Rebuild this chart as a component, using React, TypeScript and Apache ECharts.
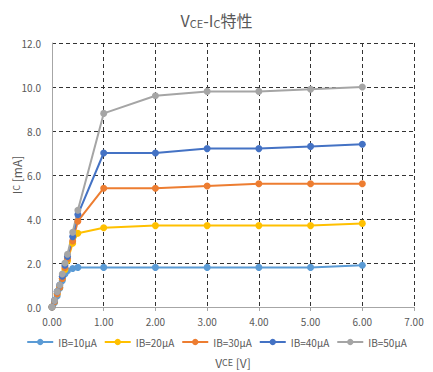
import React, { useEffect, useRef } from "react";
import * as echarts from "echarts";

const vce = [0, 0.05, 0.1, 0.15, 0.2, 0.25, 0.3, 0.4, 0.5, 1, 2, 3, 4, 5, 6];
const seriesNames = ["IB=10μA", "IB=20μA", "IB=30μA", "IB=40μA", "IB=50μA"];
const ib10 = [0, 0.2, 0.5, 0.85, 1.2, 1.5, 1.65, 1.75, 1.8, 1.8, 1.8, 1.8, 1.8, 1.8, 1.9];
const ib20 = [0, 0.25, 0.6, 0.9, 1.3, 1.7, 2.1, 2.9, 3.35, 3.6, 3.7, 3.7, 3.7, 3.7, 3.8];
const ib30 = [0, 0.25, 0.6, 0.9, 1.3, 1.8, 2.2, 3.0, 3.9, 5.4, 5.4, 5.5, 5.6, 5.6, 5.6];
const ib40 = [0, 0.3, 0.7, 1.0, 1.4, 1.9, 2.3, 3.2, 4.2, 7.0, 7.0, 7.2, 7.2, 7.3, 7.4];
const ib50 = [0, 0.3, 0.7, 1.0, 1.5, 2.0, 2.4, 3.4, 4.4, 8.8, 9.6, 9.8, 9.8, 9.9, 10.0];
const colors = ["#5B9BD5", "#FFC000", "#ED7D31", "#4472C4", "#A5A5A5"];

const FONT = "'Noto Sans CJK JP', 'Noto Sans', sans-serif";
const TXT = "#595959";

export default function App() {
  const ref = useRef<HTMLDivElement>(null);
  useEffect(() => {
    if (!ref.current) return;
    const chart = echarts.init(ref.current, undefined, { renderer: "svg" });
    const all = [ib10, ib20, ib30, ib40, ib50];
    const gridLine = { show: true, lineStyle: { color: "#333", type: [4, 3] as any, width: 1 } };
    chart.setOption({
      animation: false,
      textStyle: { fontFamily: FONT },
      title: {
        text: "V{s|CE}-I{s|C}特性",
        left: "center",
        top: 7,
        textStyle: {
          fontFamily: FONT,
          fontSize: 16,
          fontWeight: "normal",
          color: TXT,
          rich: { s: { fontSize: 11, color: TXT, fontFamily: FONT, verticalAlign: "bottom" } },
        },
      },
      graphic: [
        {
          type: "text",
          x: 16,
          y: 175,
          rotation: Math.PI / 2,
          style: {
            text: "I{s|C} [mA]",
            fontSize: 12,
            fontFamily: FONT,
            fill: TXT,
            align: "center",
            verticalAlign: "middle",
            rich: { s: { fontSize: 9, fill: TXT, fontFamily: FONT } },
          },
        },
      ],
      legend: {
        top: 331,
        left: "center",
        itemWidth: 26,
        itemHeight: 8,
        itemGap: 7,
        textStyle: { fontSize: 10, color: TXT, fontFamily: FONT, lineHeight: 12 },
        data: seriesNames,
      },
      grid: { left: 52, right: 19, top: 43, bottom: 65, containLabel: false, outerBoundsMode: "none" },
      xAxis: {
        type: "value",
        min: 0,
        max: 7,
        interval: 1,
        name: "V{s|CE} [V]",
        nameLocation: "middle",
        nameGap: 48,
        nameTextStyle: {
          fontSize: 12,
          color: TXT,
          fontFamily: FONT,
          lineHeight: 14,
          rich: { s: { fontSize: 9, lineHeight: 14, color: TXT, fontFamily: FONT } },
        },
        axisLine: { show: true, lineStyle: { color: "#A6A6A6", width: 1 } },
        axisTick: { show: true, length: 4, lineStyle: { color: "#A6A6A6" } },
        axisLabel: { fontSize: 10, color: TXT, margin: 9, formatter: (v: number) => v.toFixed(2) },
        splitLine: gridLine,
      },
      yAxis: {
        type: "value",
        min: 0,
        max: 12,
        interval: 2,
        axisLine: { show: true, lineStyle: { color: "#A6A6A6", width: 1 } },
        axisTick: { show: false },
        axisLabel: { fontSize: 10, color: TXT, margin: 11, formatter: (v: number) => v.toFixed(1) },
        splitLine: gridLine,
      },
      series: all.map((vals, i) => ({
        name: seriesNames[i],
        type: "line",
        data: vce.map((x, k) => [x, vals[k]]),
        symbol: "circle",
        symbolSize: 7,
        color: colors[i],
        lineStyle: { width: 2, color: colors[i] },
        itemStyle: { color: colors[i] },
      })),
    });
    return () => chart.dispose();
  }, []);
  return <div ref={ref} style={{ width: 433, height: 372, position: "absolute", left: 0, top: 0, background: "#fff" }} />;
}
